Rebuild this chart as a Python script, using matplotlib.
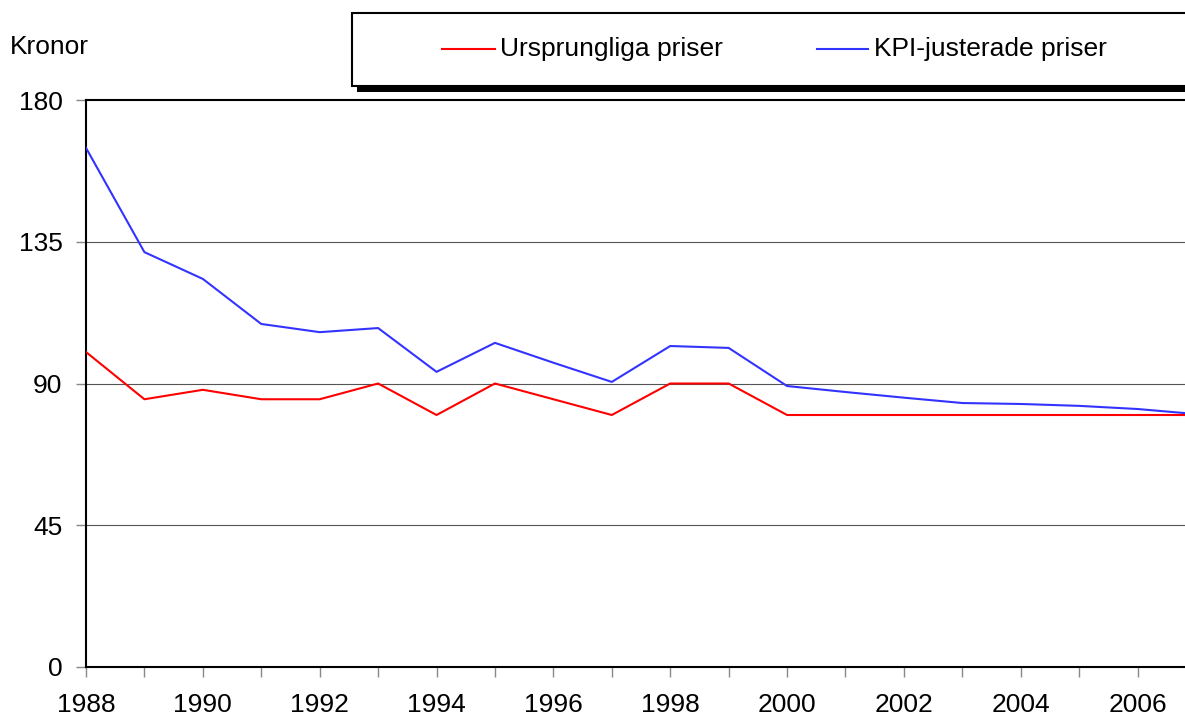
import matplotlib.pyplot as plt
from matplotlib.patches import Rectangle
from matplotlib.lines import Line2D

plt.rcParams['font.family'] = ['Liberation Sans', 'DejaVu Sans']

years = list(range(1988, 2008))
ursprungliga = [100, 85, 88, 85, 85, 90, 80, 90, 85, 80, 90, 90, 80, 80, 80, 80, 80, 80, 80, 80]
kpi_justerade = [164.8, 131.7, 123.2, 108.9, 106.3, 107.6, 93.7, 102.9, 96.6, 90.5,
                 101.9, 101.3, 89.2, 87.3, 85.5, 83.8, 83.5, 82.9, 81.9, 80.3]

yticks = [0, 45, 90, 135, 180]

W, H = 1185, 718
fig = plt.figure(figsize=(W / 100, H / 100), dpi=100)
ax = fig.add_axes([86 / W, 1 - 667 / H, (1196 - 86) / W, (667 - 100) / H])

for yv in yticks[1:-1]:
    ax.axhline(yv, color='#555555', linewidth=0.8, zorder=1)

ax.plot(years, ursprungliga, color='#ff0000', linewidth=1.5, zorder=3)
ax.plot(years, kpi_justerade, color='#3333ff', linewidth=1.5, zorder=3)

ax.set_xlim(1988, 2007)
ax.set_ylim(0, 180)
ax.set_yticks(yticks)
ax.set_xticks(years)
ax.set_xticklabels([str(y) if (y - 1988) % 2 == 0 else '' for y in years])
ax.tick_params(axis='both', labelsize=19, colors='#888888', labelcolor='black',
               width=1, length=7)
ax.tick_params(axis='y', pad=10)
ax.tick_params(axis='x', pad=12)
for s in ['left', 'bottom', 'top']:
    ax.spines[s].set_linewidth(1.5)
    ax.spines[s].set_color('black')
ax.spines['right'].set_visible(False)

fig.text(10 / W, 1 - 47 / H, 'Kronor', fontsize=19, va='center', ha='left')

# legend box with shadow
fig.patches.append(Rectangle((357 / W, 1 - 92 / H), 900 / W, 78 / H,
                             transform=fig.transFigure, facecolor='black',
                             edgecolor='none', zorder=5))
fig.patches.append(Rectangle((352 / W, 1 - 86 / H), 900 / W, 73 / H,
                             transform=fig.transFigure, facecolor='white',
                             edgecolor='black', linewidth=1.5, zorder=6))
ly = 1 - 49 / H
fig.lines.append(Line2D([442 / W, 495 / W], [ly, ly], transform=fig.transFigure,
                        color='#ff0000', linewidth=1.5, zorder=7))
fig.text(500 / W, ly, 'Ursprungliga priser', fontsize=19, va='center', ha='left', zorder=7)
fig.lines.append(Line2D([817 / W, 868 / W], [ly, ly], transform=fig.transFigure,
                        color='#3333ff', linewidth=1.5, zorder=7))
fig.text(874 / W, ly, 'KPI-justerade priser', fontsize=19, va='center', ha='left', zorder=7)

fig.savefig('out.png', dpi=100)
